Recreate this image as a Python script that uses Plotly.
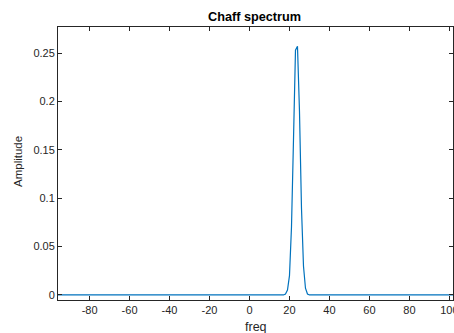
import plotly.graph_objects as go

# Data
freq = [-96, 16, 17, 18, 19, 20, 21, 22, 23, 24, 25, 26, 27, 28, 29, 30, 104]
amplitude = [0.0, 0.0, 0.0, 0.001, 0.005, 0.02, 0.07, 0.16, 0.253, 0.257, 0.19, 0.09, 0.03, 0.007, 0.001, 0.0, 0.0]
x_ticks = [-80, -60, -40, -20, 0, 20, 40, 60, 80, 100]
x_tick_text = ["-80", "-60", "-40", "-20", "0", "20", "40", "60", "80", "100"]
y_ticks = [0, 0.05, 0.1, 0.15, 0.2, 0.25]
y_tick_text = ["0", "0.05", "0.1", "0.15", "0.2", "0.25"]

W, H = 454, 333
ML, MR, MT, MB = 58, 1, 27, 33
PH = H - MT - MB
FONT = "Liberation Sans, Arial, sans-serif"

fig = go.Figure()
fig.add_trace(go.Scatter(x=freq, y=amplitude, mode="lines",
                         line=dict(color="#0072BD", width=1.2),
                         hoverinfo="skip", showlegend=False))

axis_common = dict(showgrid=False, zeroline=False, showline=True,
                   linecolor="#262626", linewidth=1, mirror="ticks",
                   ticks="inside", ticklen=4, tickcolor="#262626",
                   tickfont=dict(family=FONT, size=11, color="#262626"),
                   automargin=False, ticklabeloverflow="allow")

fig.update_layout(
    width=W, height=H,
    margin=dict(l=ML, r=MR, t=MT, b=MB),
    paper_bgcolor="white", plot_bgcolor="white",
    xaxis=dict(range=[-95.8, 101.8], tickvals=x_ticks, ticktext=x_tick_text, **axis_common),
    yaxis=dict(range=[-0.0052, 0.277], tickvals=y_ticks, ticktext=y_tick_text, **axis_common),
    annotations=[
        dict(text="<b>Chaff spectrum</b>", xref="paper", yref="paper",
             x=(254.5 - ML) / (W - ML - MR), y=1 + 9.5 / PH, xanchor="center", yanchor="middle",
             showarrow=False, font=dict(family=FONT, size=12.7, color="black")),
        dict(text="freq", xref="paper", yref="paper",
             x=(256 - ML) / (W - ML - MR), y=-26.5 / PH, xanchor="center", yanchor="middle",
             showarrow=False, font=dict(family=FONT, size=12.5, color="#262626")),
        dict(text="Amplitude", xref="paper", yref="paper", textangle=-90,
             x=-(ML - 18) / (W - ML - MR), y=1 - (162 - MT) / PH,
             xanchor="center", yanchor="middle",
             showarrow=False, font=dict(family=FONT, size=11.5, color="#262626")),
    ],
)

fig.write_html("out.html")
